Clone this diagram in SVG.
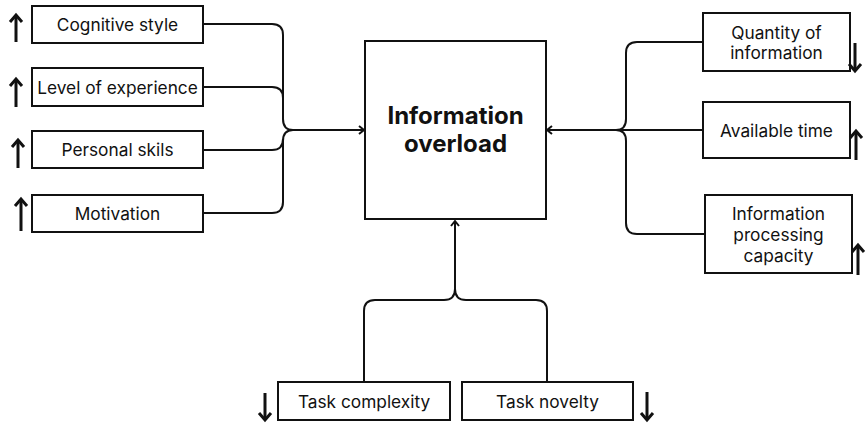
<svg xmlns="http://www.w3.org/2000/svg" width="866" height="428" viewBox="0 0 866 428">
  <style>
    .box { fill: #fff; stroke: #111; stroke-width: 2; }
    .lbl { font-family: Inter, "Liberation Sans", sans-serif; font-size: 17.3px; fill: #111; text-anchor: middle; }
    .title { font-family: Inter, "Liberation Sans", sans-serif; font-size: 24px; font-weight: 700; fill: #111; text-anchor: middle; }
    .conn { fill: none; stroke: #111; stroke-width: 2; }
    .ind { fill: none; stroke: #111; stroke-width: 3; }
  </style>
  <defs>
    <marker id="tip" viewBox="-8 -6 10 12" refX="0" refY="0" markerWidth="10" markerHeight="12" markerUnits="userSpaceOnUse" orient="auto">
      <path d="M-5,-4 L0,0 L-5,4" fill="none" stroke="#111" stroke-width="2"/>
    </marker>
    <marker id="head" viewBox="-10 -9 13 18" refX="0" refY="0" markerWidth="13" markerHeight="18" markerUnits="userSpaceOnUse" orient="auto">
      <path d="M-7,-6 L0,0 L-7,6" fill="none" stroke="#111" stroke-width="3"/>
    </marker>
  </defs>

  <!-- connectors -->
  <g id="connectors">
    <path class="conn" d="M203,24 H272 Q283,24 283,35 V119 Q283,130 293,130"/>
    <path class="conn" d="M203,87 H272 Q283,87 283,98"/>
    <path class="conn" d="M203,150 H272 Q283,150 283,139"/>
    <path class="conn" d="M203,213 H272 Q283,213 283,202 V141 Q283,130 293,130"/>
    <path class="conn" d="M293,130 H364" marker-end="url(#tip)"/>

    <path class="conn" d="M703,42 H637 Q626,42 626,53 V119 Q626,130 616,130"/>
    <path class="conn" d="M705,234 H637 Q626,234 626,223 V141 Q626,130 616,130"/>
    <path class="conn" d="M703,130 H547" marker-end="url(#tip)"/>

    <path class="conn" d="M364,382 V311 Q364,300 375,300 H444 Q455,300 455,289"/>
    <path class="conn" d="M547,382 V311 Q547,300 536,300 H466 Q455,300 455,289"/>
    <path class="conn" d="M455,289 V221" marker-end="url(#tip)"/>
  </g>

  <!-- central node -->
  <g id="overload">
    <rect class="box" x="365" y="41" width="181" height="178"/>
    <text class="title" x="455.5" y="124">Information</text>
    <text class="title" x="455.5" y="152">overload</text>
  </g>

  <!-- left factors -->
  <g id="cognitive-style">
    <rect class="box" x="32" y="6" width="171" height="37"/>
    <text class="lbl" x="117.5" y="31">Cognitive style</text>
    <path class="ind" d="M16,42 V15" marker-end="url(#head)"/>
  </g>
  <g id="level-of-experience">
    <rect class="box" x="32" y="68" width="171" height="38"/>
    <text class="lbl" x="117.5" y="93.5">Level of experience</text>
    <path class="ind" d="M16,107 V79" marker-end="url(#head)"/>
  </g>
  <g id="personal-skills">
    <rect class="box" x="32" y="131" width="171" height="37"/>
    <text class="lbl" x="117.5" y="156">Personal skils</text>
    <path class="ind" d="M18,168 V140" marker-end="url(#head)"/>
  </g>
  <g id="motivation">
    <rect class="box" x="32" y="195" width="171" height="37"/>
    <text class="lbl" x="117.5" y="220">Motivation</text>
    <path class="ind" d="M21,231 V199" marker-end="url(#head)"/>
  </g>

  <!-- right factors -->
  <g id="quantity-of-information">
    <rect class="box" x="703" y="13" width="147" height="58"/>
    <text class="lbl" x="776.5" y="38.5">Quantity of</text>
    <text class="lbl" x="776.5" y="58.5">information</text>
    <path class="ind" d="M855,43 V71" marker-end="url(#head)"/>
  </g>
  <g id="available-time">
    <rect class="box" x="703" y="102" width="147" height="56"/>
    <text class="lbl" x="776.5" y="136.5">Available time</text>
    <path class="ind" d="M856,160 V131" marker-end="url(#head)"/>
  </g>
  <g id="processing-capacity">
    <rect class="box" x="705" y="195" width="147" height="78"/>
    <text class="lbl" x="778.5" y="219.5">Information</text>
    <text class="lbl" x="778.5" y="240.5">processing</text>
    <text class="lbl" x="778.5" y="261.5">capacity</text>
    <path class="ind" d="M858,275 V245" marker-end="url(#head)"/>
  </g>

  <!-- task factors -->
  <g id="task-complexity">
    <rect class="box" x="278" y="382" width="172" height="38"/>
    <text class="lbl" x="364" y="407.5">Task complexity</text>
    <path class="ind" d="M265,393 V420" marker-end="url(#head)"/>
  </g>
  <g id="task-novelty">
    <rect class="box" x="462" y="382" width="171" height="38"/>
    <text class="lbl" x="547.5" y="407.5">Task novelty</text>
    <path class="ind" d="M647,392 V420" marker-end="url(#head)"/>
  </g>
</svg>
